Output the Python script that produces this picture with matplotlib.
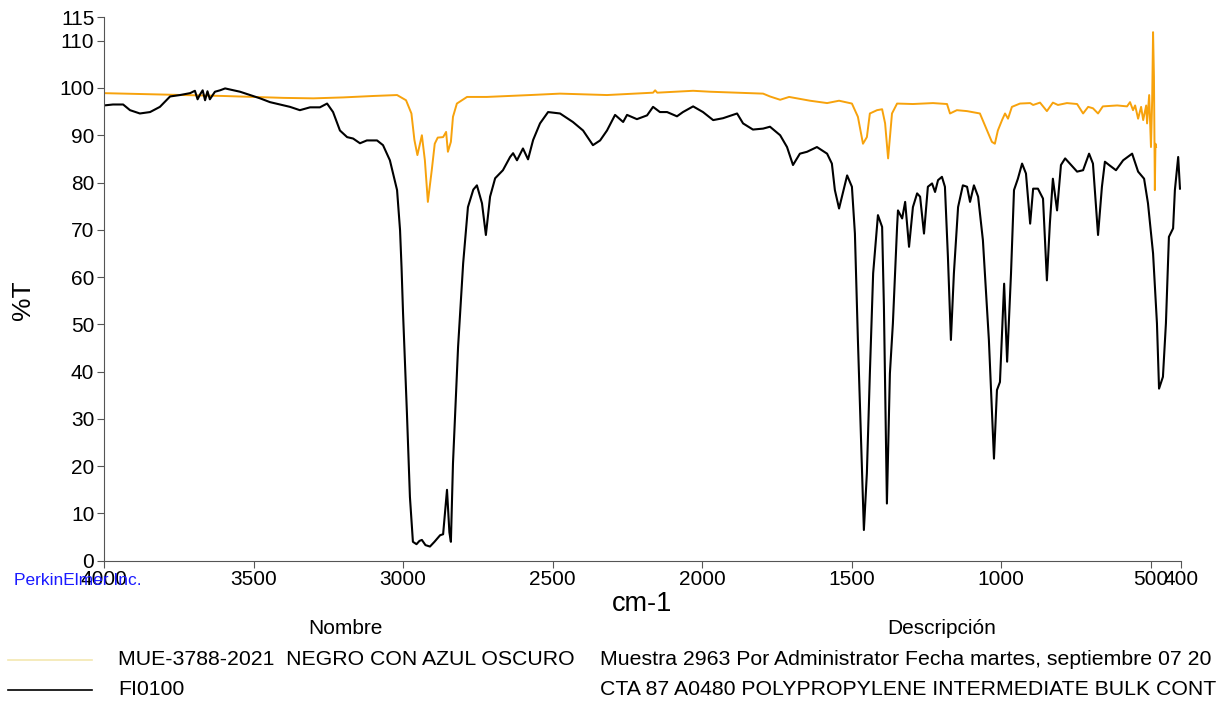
import matplotlib
matplotlib.use("Agg")
import matplotlib.pyplot as plt
from matplotlib.lines import Line2D

plt.rcParams['font.family'] = ['Liberation Sans', 'DejaVu Sans']

# FI0100 (reference polypropylene spectrum), wavenumber cm-1 / %T
ref_wn = [4000, 3970, 3936, 3913, 3880, 3846, 3813, 3779, 3746, 3712, 3696, 3687,
          3679, 3670, 3662, 3654, 3646, 3629, 3612, 3595, 3545, 3512, 3478, 3445,
          3411, 3378, 3345, 3311, 3278, 3254, 3234, 3211, 3187, 3167, 3144, 3121,
          3087, 3067, 3044, 3020, 3010, 3005, 3000, 2987, 2977, 2967, 2955, 2945,
          2937, 2925, 2910, 2895, 2876, 2866, 2853, 2845, 2840, 2833, 2816, 2799,
          2783, 2765, 2753, 2736, 2723, 2709, 2692, 2666, 2642, 2632, 2619, 2599,
          2582, 2565, 2542, 2515, 2475, 2432, 2398, 2365, 2341, 2318, 2291, 2264,
          2251, 2218, 2184, 2164, 2141, 2117, 2084, 2064, 2030, 1997, 1963, 1930,
          1883, 1863, 1830, 1796, 1773, 1739, 1716, 1696, 1673, 1649, 1616, 1582,
          1566, 1556, 1542, 1515, 1499, 1489, 1479, 1465, 1459, 1449, 1439, 1428,
          1412, 1398, 1392, 1382, 1372, 1362, 1348, 1345, 1331, 1321, 1308, 1295,
          1281, 1271, 1258, 1245, 1231, 1221, 1211, 1198, 1188, 1178, 1168, 1158,
          1144, 1128, 1114, 1104, 1091, 1077, 1061, 1041, 1024, 1014, 1004, 990,
          980, 967, 957, 944, 930, 917, 903, 893, 877, 860, 847, 837,
          827, 813, 800, 786, 746, 726, 706, 693, 676, 663, 653, 639,
          616, 592, 562, 542, 522, 509, 492, 479, 472, 459, 449, 439,
          425, 419, 408, 402]
ref_t = [96.3, 96.5, 96.5, 95.3, 94.6, 94.9, 96.0, 98.2, 98.5, 98.9, 99.4, 97.6,
         98.6, 99.5, 97.4, 99.3, 97.6, 99.2, 99.5, 99.9, 99.2, 98.5, 97.8, 97.0,
         96.5, 96.0, 95.3, 95.9, 95.9, 96.7, 94.9, 91.0, 89.6, 89.3, 88.3, 88.9,
         88.9, 87.9, 84.7, 78.4, 69.9, 62.0, 52.4, 31.2, 13.5, 4.0, 3.5, 4.2,
         4.4, 3.3, 3.0, 4.0, 5.4, 5.6, 15.0, 6.0, 4.0, 20.6, 45.2, 62.9,
         74.8, 78.5, 79.4, 75.6, 68.9, 77.0, 80.9, 82.6, 85.4, 86.2, 84.7, 87.2,
         84.9, 89.0, 92.5, 94.9, 94.6, 92.8, 91.0, 87.9, 88.9, 91.0, 94.3, 92.8,
         94.3, 93.4, 94.2, 96.0, 94.9, 94.9, 94.0, 94.9, 96.1, 94.9, 93.2, 93.6,
         94.6, 92.5, 91.2, 91.4, 91.8, 90.0, 87.5, 83.7, 86.1, 86.5, 87.5, 86.1,
         84.0, 78.4, 74.5, 81.5, 79.1, 69.2, 46.7, 18.5, 6.5, 18.5, 39.6, 60.8,
         73.1, 70.6, 53.7, 12.1, 39.6, 50.2, 70.6, 74.1, 72.4, 75.9, 66.4, 74.8,
         77.7, 77.0, 69.2, 79.1, 79.8, 78.0, 80.5, 81.2, 79.1, 64.3, 46.7, 60.8,
         74.8, 79.4, 79.1, 75.9, 79.4, 77.0, 67.8, 46.7, 21.6, 36.1, 37.8, 58.6,
         42.1, 60.8, 78.4, 80.8, 84.0, 81.9, 71.3, 78.7, 78.7, 76.6, 59.3, 71.4,
         80.8, 74.1, 83.7, 85.1, 82.3, 82.6, 86.1, 84.0, 68.9, 79.1, 84.4, 83.7,
         82.6, 84.7, 86.1, 82.3, 80.8, 75.6, 65.0, 50.2, 36.4, 38.9, 50.2, 68.5,
         70.3, 78.4, 85.4, 78.7]

# MUE-3788-2021 sample spectrum
mue_wn = [4000, 3800, 3600, 3400, 3300, 3200, 3100, 3020, 2990, 2972, 2962, 2952,
          2937, 2927, 2917, 2904, 2894, 2884, 2866, 2856, 2850, 2840, 2833, 2820,
          2786, 2720, 2575, 2475, 2318, 2164, 2157, 2150, 2030, 1973, 1796, 1773,
          1739, 1709, 1639, 1582, 1542, 1499, 1479, 1462, 1449, 1439, 1415, 1398,
          1388, 1378, 1365, 1348, 1295, 1228, 1181, 1171, 1148, 1114, 1071, 1047,
          1031, 1021, 1011, 997, 987, 977, 964, 937, 903, 893, 870, 847,
          827, 810, 780, 746, 726, 709, 693, 676, 660, 612, 579, 569,
          559, 552, 542, 532, 525, 515, 512, 505, 499, 495, 492, 489,
          486, 484, 482]
mue_t = [98.9, 98.6, 98.3, 97.9, 97.8, 98.0, 98.3, 98.5, 97.4, 94.6, 89.0, 85.8,
         90.0, 84.7, 75.9, 82.6, 88.2, 89.5, 89.6, 90.7, 86.5, 88.6, 93.9, 96.7,
         98.1, 98.1, 98.5, 98.8, 98.5, 99.0, 99.5, 99.0, 99.4, 99.2, 98.8, 98.2,
         97.5, 98.1, 97.3, 96.8, 97.3, 96.7, 93.9, 88.2, 89.6, 94.6, 95.3, 95.5,
         92.5, 85.1, 94.6, 96.7, 96.6, 96.8, 96.6, 94.6, 95.3, 95.1, 94.6, 91.0,
         88.6, 88.2, 91.0, 93.2, 94.6, 93.5, 96.0, 96.7, 96.8, 96.4, 96.9, 95.1,
         96.9, 96.4, 96.8, 96.6, 94.6, 96.0, 95.7, 94.6, 96.1, 96.3, 96.1, 97.0,
         95.3, 96.3, 93.5, 96.0, 93.2, 96.3, 92.5, 98.5, 87.5, 97.4, 111.8, 102.3,
         78.4, 88.2, 87.5]

x_ticks = [4000, 3500, 3000, 2500, 2000, 1500, 1000, 500, 400]
y_ticks = [0, 10, 20, 30, 40, 50, 60, 70, 80, 90, 100, 110, 115]

fig = plt.figure(figsize=(12.22, 7.01), dpi=100)
ax = fig.add_axes([0.0851, 0.2001, 0.881, 0.7756])

ax.plot(mue_wn, mue_t, color='#f7a20c', lw=1.4)
ax.plot(ref_wn, ref_t, color='black', lw=1.5)

ax.set_xlim(4000, 400)
ax.set_ylim(0, 115)
ax.set_xticks(x_ticks)
ax.set_yticks(y_ticks)
ax.tick_params(labelsize=15, length=5, color='#555555', pad=2)
for s in ['top', 'right']:
    ax.spines[s].set_visible(False)
for s in ['left', 'bottom']:
    ax.spines[s].set_color('#555555')

fig.text(0.5254, 0.1384, 'cm-1', ha='center', va='center', fontsize=19.5)
fig.text(0.019, 0.572, '%T', ha='center', va='center', fontsize=19, rotation=90)
fig.text(0.0115, 0.1726, 'PerkinElmer Inc.', ha='left', va='center',
         fontsize=12.5, color='#1a1aff')

# legend table under the plot (descriptions shown as far as the page shows them)
fig.text(0.2823, 0.1041, 'Nombre', ha='center', va='center', fontsize=15)
fig.text(0.771, 0.1041, 'Descripción', ha='center', va='center', fontsize=15)
fig.add_artist(Line2D([8 / 1222, 92 / 1222], [0.0585, 0.0585], color='#f3e7b0', lw=1.2))
fig.add_artist(Line2D([8 / 1222, 92 / 1222], [0.0157, 0.0157], color='black', lw=1.2))
fig.text(0.0966, 0.0585, 'MUE-3788-2021  NEGRO CON AZUL OSCURO', va='center', fontsize=15.3)
fig.text(0.491, 0.0585, 'Muestra 2963 Por Administrator Fecha martes, septiembre 07 20',
         va='center', fontsize=15.3)
fig.text(0.0966, 0.0171, 'FI0100', va='center', fontsize=15.3)
fig.text(0.491, 0.0171, 'CTA 87 A0480 POLYPROPYLENE INTERMEDIATE BULK CONT',
         va='center', fontsize=15.3)

fig.savefig('out.png', dpi=100)
